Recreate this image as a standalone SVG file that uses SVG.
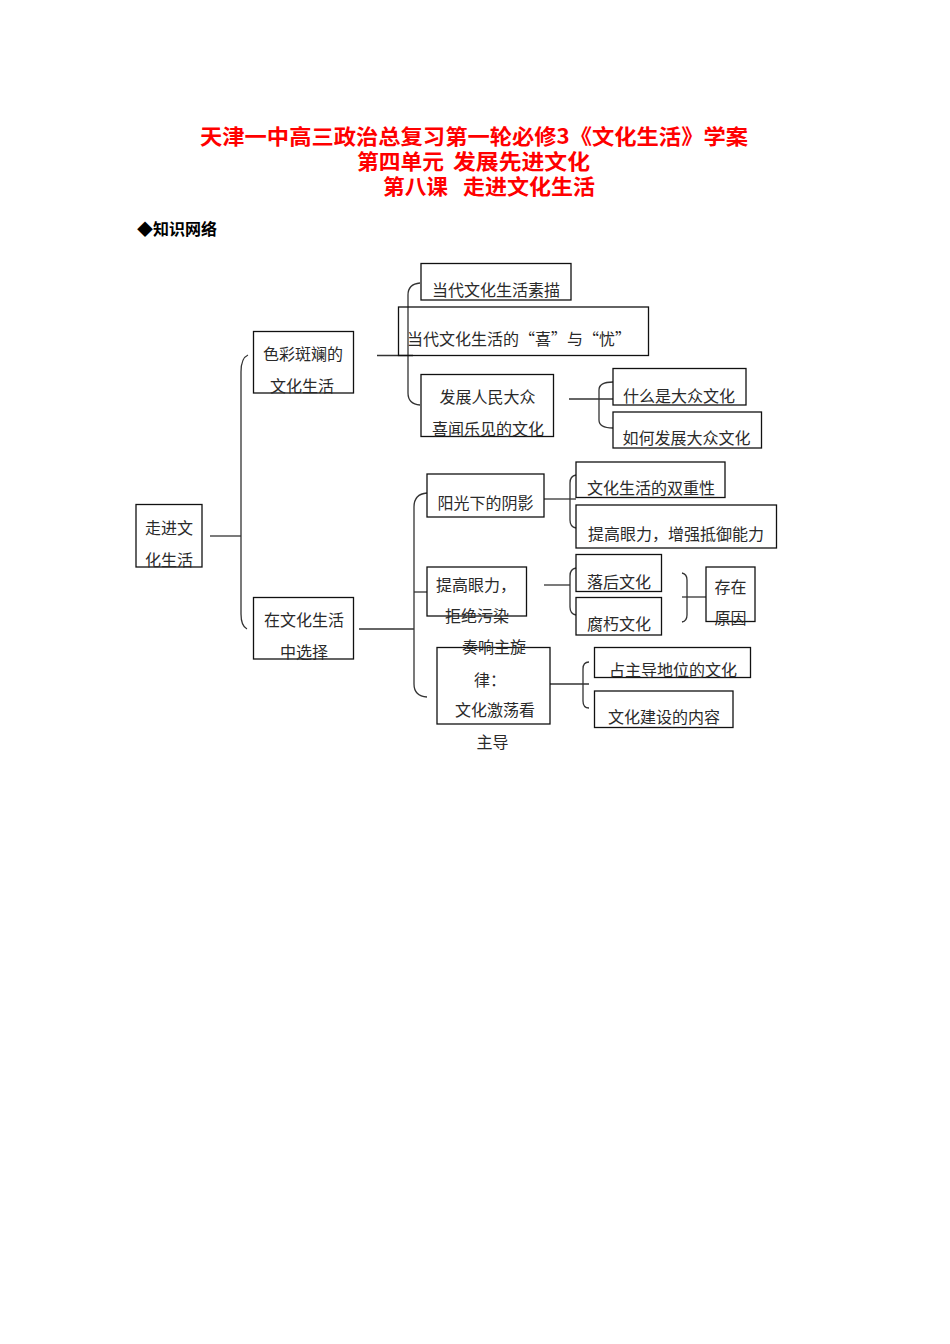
<svg xmlns="http://www.w3.org/2000/svg" width="950" height="1344" viewBox="0 0 950 1344">
<style>
.t{font-family:"Noto Sans CJK SC","Noto Sans",sans-serif;font-size:16px;fill:#2a2a2a}
.c{text-anchor:middle}
.h{font-family:"Noto Sans CJK SC","Noto Sans",sans-serif;font-weight:bold;fill:#ff0000;font-size:21px}
.b{fill:none;stroke:#111;stroke-width:1.3}
.l{fill:none;stroke:#333;stroke-width:1.3}
</style>
<rect width="950" height="1344" fill="#fff"/>
<g id="title">
<text class="h" x="200" y="144" textLength="548" lengthAdjust="spacingAndGlyphs">天津一中高三政治总复习第一轮必修3《文化生活》学案</text>
<text class="h" x="357" y="169" textLength="87" lengthAdjust="spacingAndGlyphs">第四单元</text>
<text class="h" x="453" y="169" textLength="137" lengthAdjust="spacingAndGlyphs">发展先进文化</text>
<text class="h" x="383" y="194" textLength="65" lengthAdjust="spacingAndGlyphs">第八课</text>
<text class="h" x="463" y="194" textLength="132" lengthAdjust="spacingAndGlyphs">走进文化生活</text>
</g>
<g id="heading"><text x="137" y="235" style="font-family:'Noto Sans CJK SC',sans-serif;font-weight:bold;font-size:16px;fill:#000">◆知识网络</text></g>
<g id="connectors">
<path class="l" d="M210,536 H241"/>
<path class="l" d="M248,355 Q241,358 241,372 L241,614 Q241,626 247,629"/>
<path class="l" d="M377,355.5 H413"/>
<path class="l" d="M420,283 Q408,284 408,295 L408,393 Q408,404 420,405"/>
<path class="l" d="M569,399 H613"/>
<path class="l" d="M613,382 Q599,382 599,390 L599,420 Q599,428 613,428"/>
<path class="l" d="M359,629 H414"/>
<path class="l" d="M414,592 H427"/>
<path class="l" d="M427,493 Q414,494 414,507 L414,684 Q414,696 427,697"/>
<path class="l" d="M544,499 H576"/>
<path class="l" d="M576,475 Q570,476 570,483 L570,520 Q570,527 576,528"/>
<path class="l" d="M544,585 H570"/>
<path class="l" d="M576,568 Q570,569 570,576 L570,607 Q570,614 576,615"/>
<path class="l" d="M682,573 Q687,574 687,580 L687,615 Q687,621 682,622"/>
<path class="l" d="M682,597 H706"/>
<path class="l" d="M550,684 H589"/>
<path class="l" d="M589,662 Q583,662 583,669 L583,701 Q583,708 589,708"/>
</g>
<g id="n-root"><rect class="b" x="136" y="504.5" width="66" height="62.5"/><text class="t c" x="169" y="534">走进文</text><text class="t c" x="169" y="566">化生活</text></g>
<g id="n-secai"><rect class="b" x="253.5" y="331.5" width="100" height="61.5"/><text class="t c" x="303" y="360">色彩斑斓的</text><text class="t c" x="302" y="392">文化生活</text></g>
<g id="n-sumiao"><rect class="b" x="421" y="263.5" width="150" height="36.5"/><text class="t c" x="496" y="296">当代文化生活素描</text></g>
<g id="n-xiyou"><rect class="b" x="398.5" y="307" width="250" height="48.5"/><text class="t" x="407" y="345">当代文化生活的“喜”与“忧”</text></g>
<g id="n-fazhan"><rect class="b" x="421" y="374.5" width="132.5" height="62"/><text class="t c" x="487.5" y="402.5">发展人民大众</text><text class="t c" x="488" y="435">喜闻乐见的文化</text></g>
<g id="n-shenme"><rect class="b" x="613" y="368.5" width="133" height="36.5"/><text class="t c" x="679" y="402">什么是大众文化</text></g>
<g id="n-ruhe"><rect class="b" x="613" y="412" width="148.5" height="36"/><text class="t c" x="686.5" y="444">如何发展大众文化</text></g>
<g id="n-xuanze"><rect class="b" x="253.5" y="597.5" width="100" height="61.5"/><text class="t c" x="304" y="626">在文化生活</text><text class="t c" x="304" y="658">中选择</text></g>
<g id="n-yinying"><rect class="b" x="427" y="474" width="117" height="43"/><text class="t c" x="485.5" y="509">阳光下的阴影</text></g>
<g id="n-shuangchong"><rect class="b" x="576" y="462" width="149" height="35.5"/><text class="t c" x="651" y="494">文化生活的双重性</text></g>
<g id="n-diyu"><rect class="b" x="576" y="505" width="200.5" height="43"/><text class="t c" x="676" y="540">提高眼力，增强抵御能力</text></g>
<g id="n-tigao"><rect class="b" x="427" y="567" width="99.5" height="49"/><text class="t" x="436" y="590.5">提高眼力，</text><text class="t c" x="477" y="621.5">拒绝污染</text></g>
<g id="n-luohou"><rect class="b" x="576" y="554.5" width="85.5" height="37"/><text class="t c" x="619" y="587.5">落后文化</text></g>
<g id="n-fuxiu"><rect class="b" x="576" y="597.5" width="85.5" height="37.5"/><text class="t c" x="619" y="630">腐朽文化</text></g>
<g id="n-yuanyin"><rect class="b" x="706" y="567" width="49" height="54.5"/><text class="t c" x="730.5" y="592.5">存在</text><text class="t c" x="730.5" y="624">原因</text></g>
<g id="n-zhuxuanlv"><rect class="b" x="437" y="647.5" width="113" height="76.5"/><text class="t c" x="494" y="652.5">奏响主旋</text><text class="t" x="474" y="686">律：</text><text class="t c" x="495" y="716">文化激荡看</text><text class="t c" x="492.5" y="747.5">主导</text></g>
<g id="n-zhudao"><rect class="b" x="594.5" y="647.5" width="156" height="30"/><text class="t c" x="673" y="676">占主导地位的文化</text></g>
<g id="n-neirong"><rect class="b" x="594.5" y="691" width="138.5" height="36.5"/><text class="t c" x="664" y="723">文化建设的内容</text></g>
</svg>
